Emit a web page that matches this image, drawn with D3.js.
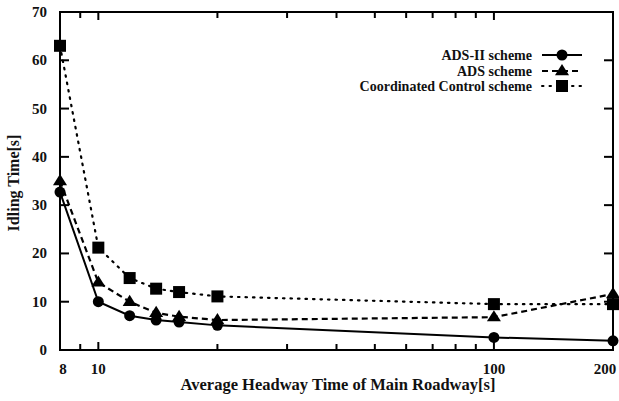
<!DOCTYPE html>
<html>
<head>
<meta charset="utf-8">
<script src="https://cdn.jsdelivr.net/npm/d3@7"></script>
<style>
  body { margin: 0; background: #fff; }
  text { font-family: "Liberation Serif", "Times New Roman", serif; font-weight: bold; fill: #111; }
</style>
</head>
<body>
<svg id="chart" width="619" height="401"></svg>
<script>
// data
const headway = [8, 10, 12, 14, 16, 20, 100, 200];
const adsII = [32.7, 10, 7.1, 6.2, 5.8, 5.1, 2.6, 1.9];
const ads = [35, 14, 10, 7.7, 6.9, 6.2, 6.8, 11.6];
const coordinated = [63, 21.2, 14.9, 12.7, 12.0, 11.1, 9.5, 9.5];
const seriesNames = ["ADS-II scheme", "ADS scheme", "Coordinated Control scheme"];
const yTicks = [0, 10, 20, 30, 40, 50, 60, 70];
const xLabels = [8, 10, 100, 200];
const xMinor = [9, 20, 30, 40, 50, 60, 70, 80, 90];

let plotLeft = 60, plotRight = 613, plotTop = 12, plotBottom = 350;

let svg = d3.select("#chart");

let x = d3.scaleLog().domain([8, 200]).range([plotLeft, plotRight]);
let y = d3.scaleLinear().domain([0, 70]).range([plotBottom, plotTop]);

let series = [
  {name: seriesNames[0], values: adsII, dash: null, marker: "circle"},
  {name: seriesNames[1], values: ads, dash: "6,4", marker: "triangle"},
  {name: seriesNames[2], values: coordinated, dash: "1.5,6", marker: "square"}
];

// frame
svg.append("rect")
  .attr("x", plotLeft).attr("y", plotTop)
  .attr("width", plotRight - plotLeft).attr("height", plotBottom - plotTop)
  .attr("fill", "none").attr("stroke", "#000").attr("stroke-width", 2);

// y ticks, inside on both sides
yTicks.forEach((t) => {
  if (t > 0 && t < 70) {
    svg.append("line").attr("x1", plotLeft).attr("x2", plotLeft + 9)
      .attr("y1", y(t)).attr("y2", y(t)).attr("stroke", "#000").attr("stroke-width", 2);
    svg.append("line").attr("x1", plotRight).attr("x2", plotRight - 9)
      .attr("y1", y(t)).attr("y2", y(t)).attr("stroke", "#000").attr("stroke-width", 2);
  }
  svg.append("text")
    .attr("x", plotLeft - 13).attr("y", y(t) + 5)
    .attr("text-anchor", "end").attr("font-size", 15)
    .text(t);
});

// x ticks, major and minor, bottom and top
let xTickList = xLabels.map((v) => ({v: v, len: 8})).concat(xMinor.map((v) => ({v: v, len: 6})));
xTickList.forEach((t) => {
  if (t.v == 8 || t.v == 200) return;
  svg.append("line").attr("x1", x(t.v)).attr("x2", x(t.v))
    .attr("y1", plotBottom).attr("y2", plotBottom - t.len).attr("stroke", "#000").attr("stroke-width", 2);
  svg.append("line").attr("x1", x(t.v)).attr("x2", x(t.v))
    .attr("y1", plotTop).attr("y2", plotTop + t.len).attr("stroke", "#000").attr("stroke-width", 2);
});
let xLabelShift = {8: 3, 10: 0, 100: 0, 200: -8};
xLabels.forEach((v) => {
  svg.append("text")
    .attr("x", x(v) + xLabelShift[v]).attr("y", plotBottom + 24)
    .attr("text-anchor", "middle").attr("font-size", 15)
    .text(v);
});

// axis titles
svg.append("text")
  .attr("x", 338).attr("y", 390)
  .attr("text-anchor", "middle").attr("font-size", 16.5)
  .text("Average Headway Time of Main Roadway[s]");

svg.append("text")
  .attr("transform", "translate(19,183) rotate(-90)")
  .attr("text-anchor", "middle").attr("font-size", 16)
  .text("Idling Time[s]");

function drawMarker(g, type, cx, cy) {
  if (type == "circle") {
    g.append("circle").attr("cx", cx).attr("cy", cy).attr("r", 5.5).attr("fill", "#000");
  } else if (type == "triangle") {
    let s = 7;
    g.append("path")
      .attr("d", "M" + cx + "," + (cy - s) + "L" + (cx + s) + "," + (cy + s * 0.6) + "L" + (cx - s) + "," + (cy + s * 0.6) + "Z")
      .attr("fill", "#000");
  } else {
    g.append("rect").attr("x", cx - 6).attr("y", cy - 6).attr("width", 12).attr("height", 12).attr("fill", "#000");
  }
}

let line = d3.line()
  .x((d, i) => x(headway[i]))
  .y((d) => y(d));

series.forEach((s) => {
  let g = svg.append("g");
  g.append("path")
    .attr("d", line(s.values))
    .attr("fill", "none").attr("stroke", "#000")
    .attr("stroke-width", s.dash == null ? 2 : 2.2)
    .attr("stroke-linecap", s.marker == "square" ? "round" : "butt")
    .attr("stroke-dasharray", s.dash);
  s.values.forEach((v, i) => drawMarker(g, s.marker, x(headway[i]), y(v)));
});

// legend
let legendY = [55, 71, 86];
series.forEach((s, i) => {
  let ly = legendY[i];
  svg.append("text")
    .attr("x", 532).attr("y", ly + 4.5)
    .attr("text-anchor", "end").attr("font-size", 14)
    .text(s.name);
  svg.append("line")
    .attr("x1", 542).attr("x2", 582).attr("y1", ly).attr("y2", ly)
    .attr("stroke", "#000").attr("stroke-width", 2)
    .attr("stroke-linecap", s.marker == "square" ? "round" : "butt")
    .attr("stroke-dasharray", s.dash);
  drawMarker(svg, s.marker, 562, ly);
});
</script>
</body>
</html>
